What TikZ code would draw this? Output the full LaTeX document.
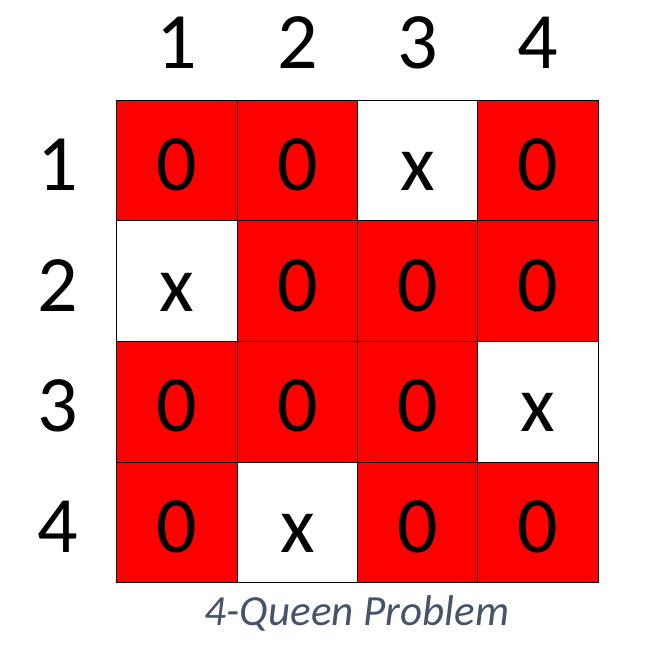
\documentclass[tikz,border=0pt]{standalone}
\usepackage{fontspec}
\setmainfont{Carlito}
\definecolor{qred}{RGB}{255,0,0}
\definecolor{capcol}{HTML}{44546A}
\begin{document}
\begin{tikzpicture}[x=1pt,y=-1pt,
  cellbox/.style={draw=black,line width=0.8pt,minimum size=120.5pt,inner sep=0pt,outer sep=0pt},
  attacked/.style={cellbox,fill=qred},
  free/.style={cellbox,fill=white},
  big/.style={font=\fontsize{80}{80}\selectfont,inner sep=0pt,anchor=base}]
\useasboundingbox (0,0) rectangle (645,664);
\fill[white] (0,0) rectangle (645,664);
% grid layout: 1 = x (free), 0 = attacked
\foreach \r/\row in {1/{0,0,1,0},2/{1,0,0,0},3/{0,0,0,1},4/{0,1,0,0}}{
  \foreach \v [count=\c] in \row {
    \pgfmathsetmacro{\cx}{117+120.25*(\c-1)+60.125}
    \pgfmathsetmacro{\cy}{100+120.75*(\r-1)+60.375}
    \ifnum\v=1
      \node[free] (c\r\c) at (\cx,\cy) {};
      \node[big] (t\r\c) at (\cx,\cy+30) {x};
    \else
      \node[attacked] (c\r\c) at (\cx,\cy) {};
      \node[big] (t\r\c) at (\cx,\cy+30) {0};
    \fi
  }
}
\foreach \c in {1,2,3,4}{
  \node[big] (col\c) at (117+120.25*\c-60.125,68) {\c};
}
\foreach \r in {1,2,3,4}{
  \node[big] (row\r) at (58,100+120.75*\r-60.375+30) {\r};
}
\node[font=\fontsize{43}{43}\selectfont\itshape,text=capcol,anchor=base,inner sep=0pt] (cap) at (357,625) {4-Queen Problem};
\end{tikzpicture}
\end{document}
